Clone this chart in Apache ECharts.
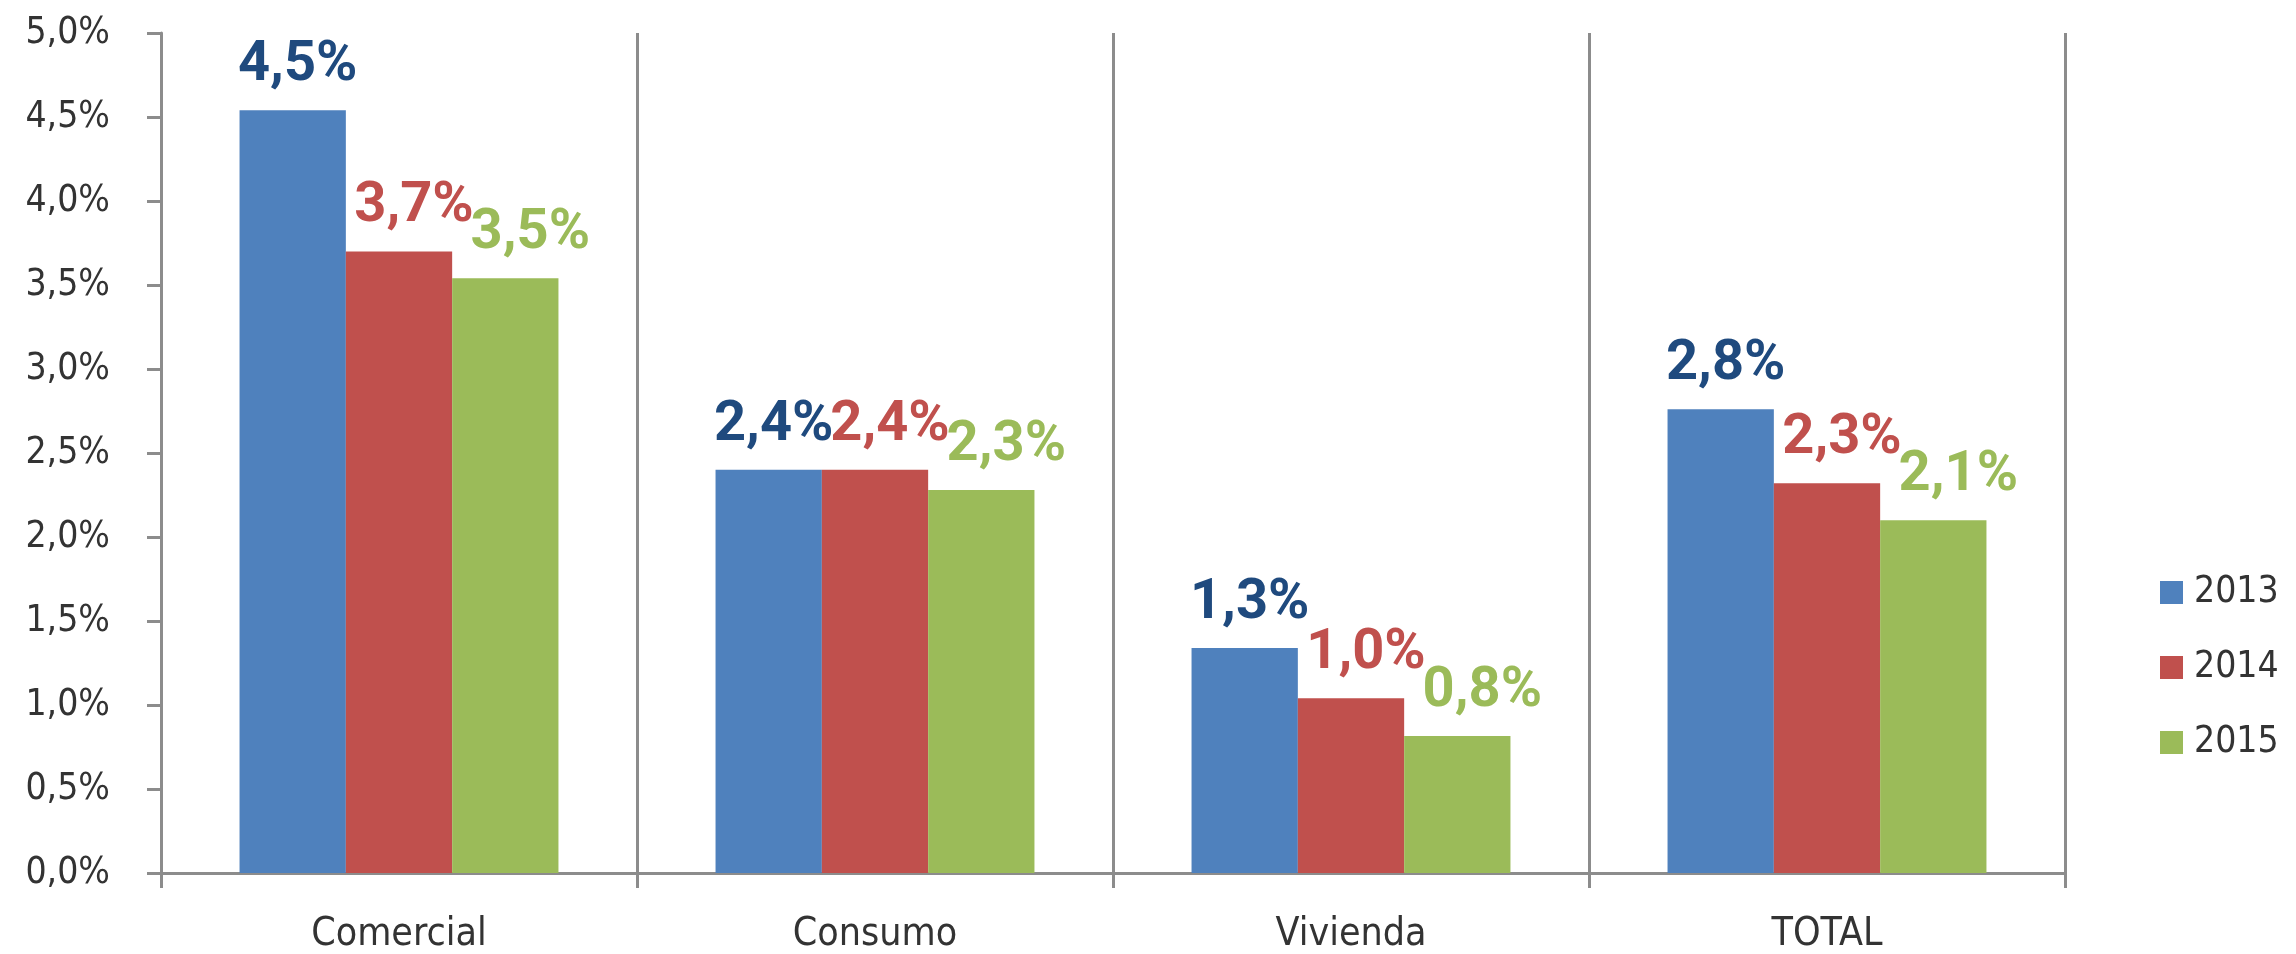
<!DOCTYPE html>
<html>
<head>
<meta charset="utf-8">
<script src="https://cdn.jsdelivr.net/npm/echarts@6/dist/echarts.min.js"></script>
<style>
html,body{margin:0;padding:0;background:#fff;}
#chart{width:2296px;height:954px;}
</style>
</head>
<body>
<div id="chart"></div>
<script>
const categories = ['Comercial', 'Consumo', 'Vivienda', 'TOTAL'];
const seriesNames = ['2013', '2014', '2015'];
const values2013 = [4.54, 2.40, 1.34, 2.76];
const values2014 = [3.70, 2.40, 1.04, 2.32];
const values2015 = [3.54, 2.28, 0.815, 2.10];
const yTicks = { min: 0, max: 5, interval: 0.5 };

const barColors = ['#4F81BD', '#C0504D', '#9BBB59'];
const labelColors = ['#1F4A7E', '#C0504D', '#9BBB59'];
const labelShift = [5, 15, 25];
const allValues = [values2013, values2014, values2015];

const fmt = v => v.toFixed(1).replace('.', ',') + '%';
const axisGray = '#8C8C8C';
const textFont = 'DejaVu Sans Condensed';

const chart = echarts.init(document.getElementById('chart'), null, { renderer: 'canvas' });
chart.setOption({
  animation: false,
  backgroundColor: '#ffffff',
  grid: { left: 161, top: 33, width: 1904, height: 841, containLabel: false },
  legend: {
    orient: 'vertical',
    left: 2155,
    top: 569,
    itemWidth: 23,
    itemHeight: 23,
    itemGap: 38,
    icon: 'rect',
    data: seriesNames,
    textStyle: { fontFamily: textFont, fontSize: 37, color: '#333333', padding: [0, 0, 0, 6] }
  },
  xAxis: {
    type: 'category',
    data: categories,
    boundaryGap: true,
    axisLine: { show: true, lineStyle: { color: axisGray, width: 3 } },
    axisTick: { show: true, length: 15, lineStyle: { color: axisGray, width: 3 } },
    splitLine: { show: true, lineStyle: { color: axisGray, width: 3 } },
    axisLabel: { fontFamily: textFont, fontSize: 39, color: '#333333', margin: 42 }
  },
  yAxis: {
    type: 'value',
    min: yTicks.min,
    max: yTicks.max,
    interval: yTicks.interval,
    axisLine: { show: true, lineStyle: { color: axisGray, width: 3 } },
    axisTick: { show: true, length: 14, lineStyle: { color: axisGray, width: 3 } },
    splitLine: { show: false },
    axisLabel: { fontFamily: textFont, fontSize: 37, color: '#333333', margin: 51, formatter: fmt }
  },
  series: seriesNames.map((name, i) => ({
    name: name,
    type: 'bar',
    data: allValues[i],
    barGap: '0%',
    barCategoryGap: '33%',
    itemStyle: { color: barColors[i] },
    label: {
      show: true,
      position: 'top',
      distance: 16,
      offset: [labelShift[i], 0],
      formatter: p => fmt(p.value),
      fontFamily: 'Roboto',
      fontWeight: 'bold',
      fontSize: 56,
      color: labelColors[i]
    }
  }))
});
</script>
</body>
</html>
